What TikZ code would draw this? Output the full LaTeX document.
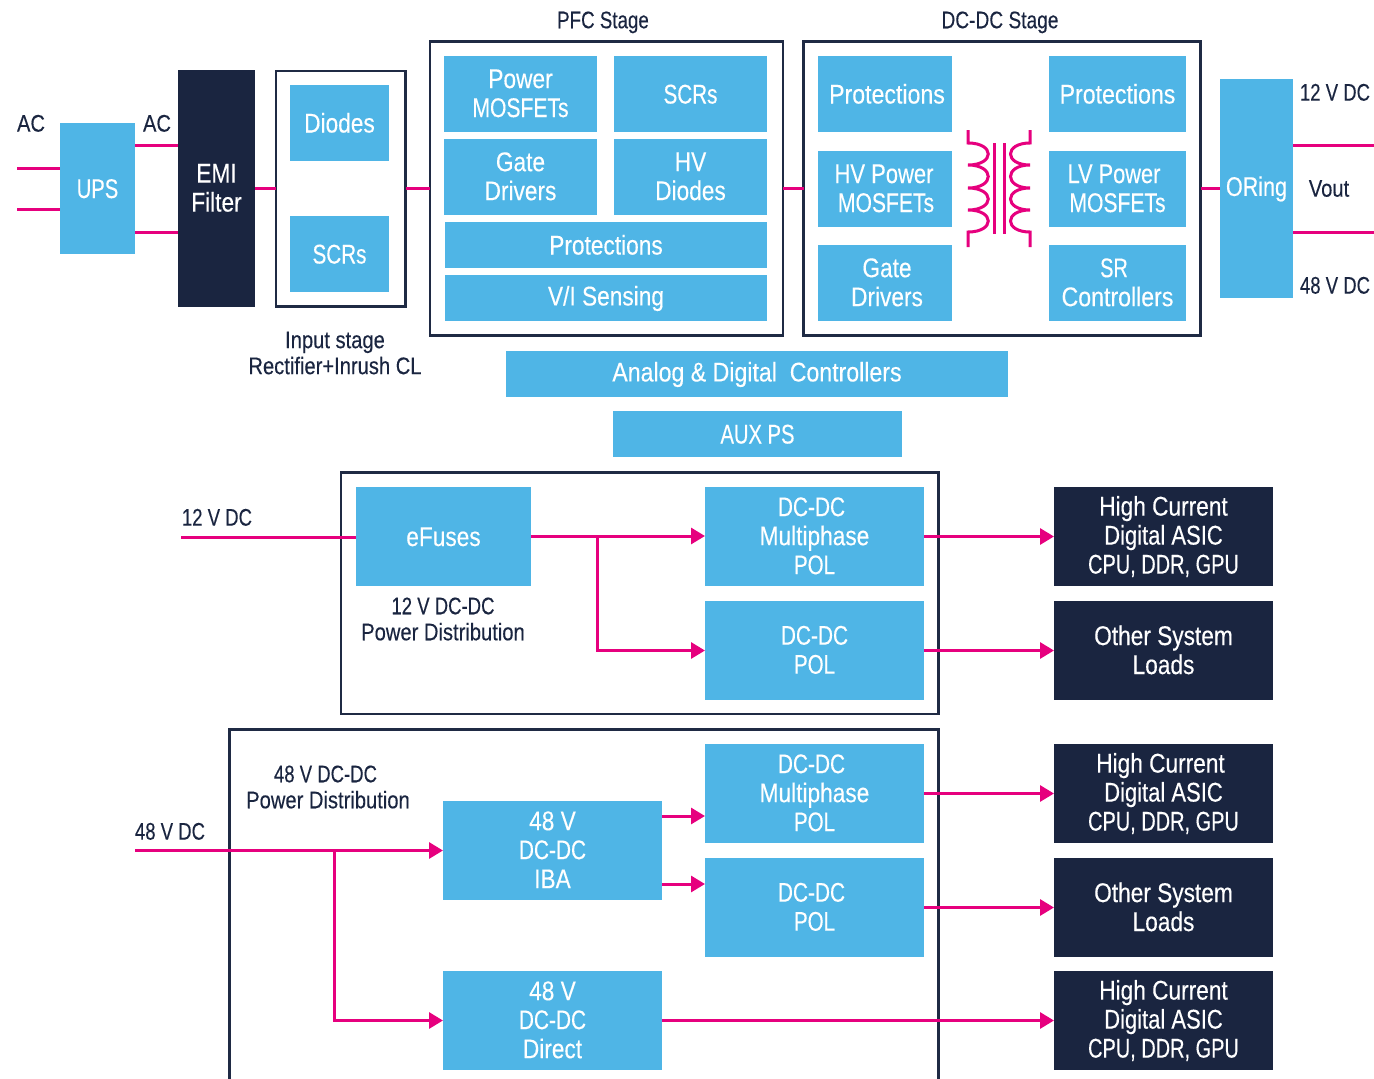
\documentclass[tikz,border=0pt]{standalone}
\usepackage{fontspec}
\setmainfont[FakeStretch=0.84,FakeBold=0.25]{Liberation Sans}
\usetikzlibrary{arrows.meta}
\definecolor{boxblue}{HTML}{4FB5E6}
\definecolor{navy}{HTML}{1A2540}
\definecolor{wire}{HTML}{E6007E}
\definecolor{frameblue}{HTML}{1F2A44}
\newcommand\sq[2]{\scalebox{#1}[1]{#2}}
\newcommand\whitestrut{\rule[-1.5pt]{0pt}{22pt}}
\newcommand\labstrut{\rule{0pt}{17.5pt}}
\tikzset{
  base/.style={inner sep=0pt,outer sep=0pt,align=center,font=\fontsize{27}{29}\selectfont,
    execute at begin node=\whitestrut,execute at end node=\whitestrut},
  bluebox/.style={base,fill=boxblue,text=white},
  darkbox/.style={base,fill=navy,text=white},
  framebox/.style={draw=frameblue,line width=2.8pt,fill=white,inner sep=0pt,outer sep=0pt},
  lab/.style={inner sep=0pt,outer sep=0pt,align=center,text=navy,font=\fontsize{24}{26}\selectfont,
    execute at begin node=\labstrut,execute at end node=\labstrut},
  wireline/.style={draw=wire,line width=3pt},
  arrowline/.style={wireline,-{Triangle[length=14pt,width=16pt]}}
}
\newcommand\bx[7]{%
  \pgfmathsetmacro\bcx{(#3+#5)/2}\pgfmathsetmacro\bcy{(#4+#6)/2}%
  \pgfmathsetmacro\bw{#5-#3}\pgfmathsetmacro\bh{#6-#4}%
  \node[#1,minimum width=\bw pt,minimum height=\bh pt] (#2) at (\bcx,\bcy) {#7};}
\begin{document}
\begin{tikzpicture}[x=1pt,y=-1pt]
\useasboundingbox (0,0) rectangle (1374,1079);
% frames
\bx{framebox}{inframe}{276}{71}{405.5}{306.5}{}
\bx{framebox}{pfcframe}{430}{41.5}{783}{335.5}{}
\bx{framebox}{dcframe}{803.5}{41.5}{1200.5}{335.5}{}
\bx{framebox}{twelveframe}{341}{472.5}{938.5}{714}{}
\coordinate (fa) at (229.5,1079);
\coordinate (fb) at (229.5,729.5);
\coordinate (fc) at (938.5,729.5);
\coordinate (fd) at (938.5,1079);
\draw[draw=frameblue,line width=2.8pt,line join=miter] (fa) -- (fb) -- (fc) -- (fd);
% top row
\bx{bluebox}{ups}{60}{123}{135}{254}{\sq{.89}{UPS}}
\bx{darkbox}{emi}{178}{70}{255}{307}{EMI\\Filter}
\bx{bluebox}{diodes}{290}{85}{389}{161}{Diodes}
\bx{bluebox}{scrsa}{290}{216}{389}{292}{\sq{.91}{SCRs}}
\bx{bluebox}{pmos}{444}{56}{597}{132}{Power\\\sq{.93}{MOSFETs}}
\bx{bluebox}{scrsb}{614}{56}{767}{132}{\sq{.91}{SCRs}}
\bx{bluebox}{gatea}{444}{139}{597}{215}{Gate\\Drivers}
\bx{bluebox}{hvd}{614}{139}{767}{215}{HV\\Diodes}
\bx{bluebox}{prota}{445}{222}{767}{268}{Protections}
\bx{bluebox}{vi}{445}{275}{767}{321}{V/I Sensing}
\bx{bluebox}{protb}{818}{56}{952}{132}{\hspace*{4pt}\sq{1.02}{Protections}}
\bx{bluebox}{hvmos}{818}{151}{952}{227}{\sq{.97}{HV Power}\hspace*{2pt}\\\hspace*{2pt}\sq{.93}{MOSFETs}}
\bx{bluebox}{gateb}{818}{245}{952}{321}{\hspace*{4pt}Gate\\\hspace*{4pt}Drivers}
\bx{bluebox}{protc}{1049}{56}{1186}{132}{\sq{1.02}{Protections}}
\bx{bluebox}{lvmos}{1049}{151}{1186}{227}{\sq{.96}{LV Power}\hspace*{7pt}\\\sq{.93}{MOSFETs}}
\bx{bluebox}{sr}{1049}{245}{1186}{321}{\sq{.88}{SR}\hspace*{7pt}\\\sq{1.02}{Controllers}}
\bx{bluebox}{oring}{1220}{79}{1293}{298}{\sq{.95}{ORing}}
\bx{bluebox}{analog}{506}{351}{1008}{397}{\sq{1.02}{Analog \& Digital\ \ Controllers}}
\bx{bluebox}{aux}{613}{411}{902}{457}{\sq{.89}{AUX PS}}
% 12 V section
\bx{bluebox}{efuses}{356}{487}{531}{586}{eFuses}
\bx{bluebox}{multa}{705}{487}{924}{586}{\sq{.92}{DC-DC}\hspace*{6pt}\\Multiphase\\\sq{.9}{POL}}
\bx{bluebox}{pola}{705}{601}{924}{700}{\sq{.92}{DC-DC}\\\sq{.9}{POL}}
\bx{darkbox}{asica}{1054}{487}{1273}{586}{High Current\\\sq{.97}{Digital ASIC}\\\sq{.88}{CPU, DDR, GPU}}
\bx{darkbox}{loada}{1054}{601}{1273}{700}{Other System\\Loads}
% 48 V section
\bx{bluebox}{multb}{705}{744}{924}{843}{\sq{.92}{DC-DC}\hspace*{6pt}\\Multiphase\\\sq{.9}{POL}}
\bx{bluebox}{polb}{705}{858}{924}{957}{\sq{.92}{DC-DC}\hspace*{6pt}\\\sq{.9}{POL}}
\bx{bluebox}{iba}{443}{801}{662}{900}{48 V\\\sq{.92}{DC-DC}\\IBA}
\bx{bluebox}{direct}{443}{971}{662}{1070}{48 V\\\sq{.92}{DC-DC}\\Direct}
\bx{darkbox}{asicb}{1054}{744}{1273}{843}{High Current\hspace*{6pt}\\\sq{.97}{Digital ASIC}\\\sq{.88}{CPU, DDR, GPU}}
\bx{darkbox}{loadb}{1054}{858}{1273}{957}{Other System\\Loads}
\bx{darkbox}{asicc}{1054}{971}{1273}{1070}{High Current\\\sq{.97}{Digital ASIC}\\\sq{.88}{CPU, DDR, GPU}}
% labels
\node[lab] (acl) at (31,123) {AC};
\node[lab] (acr) at (157,123) {AC};
\node[lab] (pfcl) at (603,22) {\sq{.93}{PFC Stage}};
\node[lab] (dcl) at (1000,22) {\sq{.95}{DC-DC Stage}};
\node[lab] (inl) at (335,353) {Input stage\\Rectifier+Inrush CL};
\node[lab] (vo) at (1335,92) {\sq{.92}{12 V DC}};
\node[lab] (vout) at (1329,188) {Vout};
\node[lab] (vf) at (1335,285) {\sq{.92}{48 V DC}};
\node[lab] (tin) at (217,517) {\sq{.92}{12 V DC}};
\node[lab] (tdist) at (443,619) {\sq{.92}{12 V DC-DC}\\Power Distribution};
\node[lab] (fin) at (170,831) {\sq{.92}{48 V DC}};
\node[lab] (fdist) at (328,787) {\sq{.92}{48 V DC-DC}\hspace*{5pt}\\Power Distribution};
% free ends
\coordinate (aca) at (17,168);
\coordinate (acb) at (17,209);
\coordinate (outa) at (1374,145);
\coordinate (outb) at (1374,232);
\coordinate (tsrc) at (181,537);
\coordinate (fsrc) at (135,850.5);
\coordinate (tbr) at (597,536);
\coordinate (fbr) at (334,850.5);
% wires
\draw[wireline] (aca) -- (ups.west |- aca);
\draw[wireline] (acb) -- (ups.west |- acb);
\draw[wireline] (ups.east |- 0,145) -- (emi.west |- 0,145);
\draw[wireline] (ups.east |- 0,232) -- (emi.west |- 0,232);
\draw[wireline] (emi.east |- 0,188) -- (inframe.west |- 0,188);
\draw[wireline] (inframe.east |- 0,188) -- (pfcframe.west |- 0,188);
\draw[wireline] (pfcframe.east |- 0,188) -- (dcframe.west |- 0,188);
\draw[wireline] (dcframe.east |- 0,188) -- (oring.west |- 0,188);
\draw[wireline] (oring.east |- outa) -- (outa);
\draw[wireline] (oring.east |- outb) -- (outb);
\draw[wireline] (tsrc) -- (efuses.west |- tsrc);
\draw[arrowline] (efuses.east |- tbr) -- (multa.west |- tbr);
\draw[arrowline,line join=miter] (tbr) -- (pola.west -| tbr) -- (pola.west);
\draw[arrowline] (multa.east |- 0,536.5) -- (asica.west |- 0,536.5);
\draw[arrowline] (pola.east |- 0,650.5) -- (loada.west |- 0,650.5);
\draw[arrowline] (fsrc) -- (iba.west);
\draw[arrowline,line join=miter] (fbr) -- (direct.west -| fbr) -- (direct.west);
\draw[arrowline] (iba.east |- 0,816) -- (multb.west |- 0,816);
\draw[arrowline] (iba.east |- 0,884) -- (polb.west |- 0,884);
\draw[arrowline] (multb.east |- 0,793.5) -- (asicb.west |- 0,793.5);
\draw[arrowline] (polb.east |- 0,907.5) -- (loadb.west |- 0,907.5);
\draw[arrowline] (direct.east) -- (asicc.west);
% transformer
\draw[wireline] (968,130) -- (968,143)
  .. controls (995,143) and (995,165) .. (968,165)
  .. controls (995,165) and (995,188) .. (968,188)
  .. controls (995,188) and (995,210) .. (968,210)
  .. controls (995,210) and (995,232) .. (968,232) -- (968,247);
\draw[wireline] (1030,130) -- (1030,143)
  .. controls (1004,143) and (1004,165) .. (1030,165)
  .. controls (1004,165) and (1004,188) .. (1030,188)
  .. controls (1004,188) and (1004,210) .. (1030,210)
  .. controls (1004,210) and (1004,232) .. (1030,232) -- (1030,247);
\draw[wireline] (994,143) -- (994,234);
\draw[wireline] (1004,143) -- (1004,234);
\end{tikzpicture}
\end{document}
